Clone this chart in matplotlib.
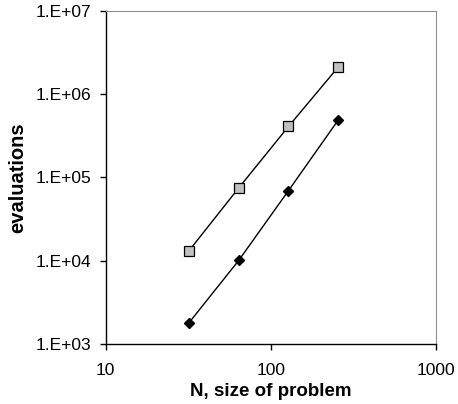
import matplotlib

matplotlib.use("Agg")
import matplotlib.pyplot as plt
from matplotlib.ticker import FixedLocator, FixedFormatter, NullLocator

plt.rcParams["font.family"] = ["Liberation Sans", "DejaVu Sans"]

sizes = [32, 64, 128, 256]
evals_upper = [1.32e4, 7.5e4, 4.1e5, 2.12e6]
evals_lower = [1.8e3, 1.01e4, 6.95e4, 4.9e5]

x_ticks = [10, 100, 1000]
x_labels = ["10", "100", "1000"]
y_ticks = [1e3, 1e4, 1e5, 1e6, 1e7]
y_labels = ["1.E+03", "1.E+04", "1.E+05", "1.E+06", "1.E+07"]

fig = plt.figure(figsize=(4.58, 4.04), dpi=100)
ax = fig.add_axes([0.2304, 0.1485, 0.7216, 0.8243])

ax.plot(sizes, evals_upper, color="black", lw=1.0, marker="s", ms=6.5,
        mfc="#c0c0c0", mec="black", mew=0.9)
ax.plot(sizes, evals_lower, color="black", lw=1.0, marker="D", ms=5.5,
        mfc="black", mec="black")

ax.set_xscale("log")
ax.set_yscale("log")
ax.set_xlim(10, 1000)
ax.set_ylim(1e3, 1e7)

ax.xaxis.set_major_locator(FixedLocator(x_ticks))
ax.xaxis.set_major_formatter(FixedFormatter(x_labels))
ax.xaxis.set_minor_locator(NullLocator())
ax.yaxis.set_major_locator(FixedLocator(y_ticks))
ax.yaxis.set_major_formatter(FixedFormatter(y_labels))
ax.yaxis.set_minor_locator(NullLocator())

ax.tick_params(axis="both", direction="out", length=4, width=1, labelsize=12.5)
ax.tick_params(axis="x", pad=10)
ax.tick_params(axis="y", pad=6)

for side in ("top", "right"):
    ax.spines[side].set_color("#909090")
for side in ("left", "bottom"):
    ax.spines[side].set_color("black")
    ax.spines[side].set_linewidth(1.0)

ax.set_xlabel("N, size of problem", fontsize=13.5, fontweight="bold", labelpad=3)
ax.set_ylabel("evaluations", fontsize=14.5, fontweight="bold", labelpad=6)

fig.savefig("out.png", dpi=100)
